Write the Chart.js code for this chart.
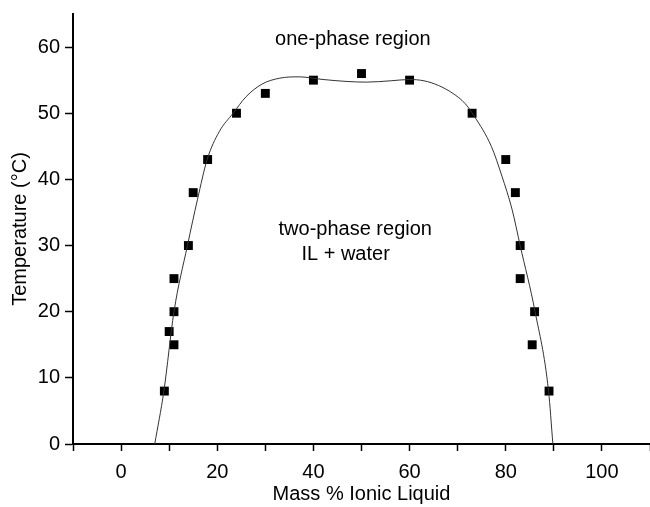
<!DOCTYPE html>
<html>
<head>
<meta charset="utf-8">
<script src="https://cdn.jsdelivr.net/npm/chart.js@4/dist/chart.umd.min.js"></script>
<style>
  html, body { margin: 0; padding: 0; background: #fff; overflow: hidden; }
  #wrap { width: 650px; height: 507px; }
</style>
</head>
<body>
<div id="wrap"><canvas id="phaseChart" width="650" height="507"></canvas></div>
<script>
// measured points (mass % IL, cloud point °C)
const expX = [9, 10, 11, 11, 11, 14, 15, 18, 24, 30, 40, 50, 60, 73, 80, 82, 83, 83, 86, 85.5, 89];
const expY = [8, 17, 15, 20, 25, 30, 38, 43, 50, 53, 55, 56, 55, 50, 43, 38, 30, 25, 20, 15, 8];

// fitted binodal curve
const fitX = [7, 8.9, 11, 13.8, 15.9, 17.9, 20.4, 23.3, 26, 29.3, 33, 37, 42, 47, 51, 56, 60, 63, 66, 69, 71.5, 73.5, 77, 79.2, 81.3, 83, 86.1, 88.9, 89.8];
const fitY = [0, 8, 20, 30, 37, 43, 47.2, 50, 52.5, 54.4, 55.3, 55.5, 55.1, 54.8, 54.7, 54.9, 55.1, 54.9, 54.2, 53, 51.5, 49.5, 45, 40.5, 35.5, 30, 20, 8, 0];

const xTicks = [0, 20, 40, 60, 80, 100];
const yTicks = [0, 10, 20, 30, 40, 50, 60];

const FONT = "'Liberation Sans', Arial, sans-serif";

// region labels
const regionLabels = [
  { text: 'one-phase region', x: 48.2, y: 61.1 },
  { text: 'two-phase region', x: 48.7, y: 32.5 },
  { text: 'IL + water', x: 46.7, y: 28.6 }
];

const labelPlugin = {
  id: 'regionLabels',
  afterDatasetsDraw(chart) {
    const { ctx, scales } = chart;
    ctx.save();
    ctx.fillStyle = '#000';
    ctx.font = '20px ' + FONT;
    ctx.textAlign = 'center';
    ctx.textBaseline = 'middle';
    regionLabels.forEach(l => {
      ctx.fillText(l.text, scales.x.getPixelForValue(l.x), scales.y.getPixelForValue(l.y));
    });
    ctx.restore();
  }
};

new Chart(document.getElementById('phaseChart').getContext('2d'), {
  type: 'scatter',
  data: {
    datasets: [
      {
        label: 'fit',
        type: 'line',
        data: fitX.map((x, i) => ({ x, y: fitY[i] })),
        borderColor: '#333',
        borderWidth: 1,
        pointRadius: 0,
        fill: false,
        cubicInterpolationMode: 'monotone'
      },
      {
        label: 'data',
        data: expX.map((x, i) => ({ x, y: expY[i] })),
        pointStyle: 'rect',
        pointRadius: 6.3,
        borderWidth: 0,
        backgroundColor: '#000',
        borderColor: '#000'
      }
    ]
  },
  options: {
    responsive: false,
    animation: false,
    devicePixelRatio: 1,
    layout: { autoPadding: false, padding: { top: 14, right: 0, left: 0, bottom: 0 } },
    plugins: { legend: { display: false }, tooltip: { enabled: false } },
    scales: {
      x: {
        type: 'linear',
        min: -10, max: 110,
        afterFit: s => { s.height = 63; s.paddingLeft = 0; s.paddingRight = 0; },
        ticks: {
          stepSize: 10,
          color: '#000',
          font: { family: FONT, size: 20 },
          padding: 9,
          maxRotation: 0,
          autoSkip: false,
          callback: v => xTicks.includes(v) ? String(v) : ''
        },
        grid: { drawOnChartArea: false, tickLength: 7, tickWidth: 1.5, tickColor: '#000' },
        border: { color: '#000', width: 2 },
        title: {
          display: true,
          text: 'Mass % Ionic Liquid',
          color: '#000',
          font: { family: FONT, size: 20 },
          padding: { top: 0, bottom: 1 }
        }
      },
      y: {
        type: 'linear',
        min: 0, max: 65,
        afterFit: s => { s.width = 73; s.paddingTop = 0; s.paddingBottom = 0; },
        afterBuildTicks: s => { s.ticks = s.ticks.filter(t => yTicks.includes(t.value)); },
        ticks: {
          stepSize: 10,
          color: '#000',
          font: { family: FONT, size: 20 },
          padding: 5
        },
        grid: { drawOnChartArea: false, tickLength: 8, tickWidth: 1.5, tickColor: '#000' },
        border: { color: '#000', width: 2 },
        title: {
          display: true,
          text: 'Temperature (°C)',
          color: '#000',
          font: { family: FONT, size: 20 },
          padding: { top: 8, bottom: 0 }
        }
      }
    }
  },
  plugins: [labelPlugin]
});
</script>
</body>
</html>
